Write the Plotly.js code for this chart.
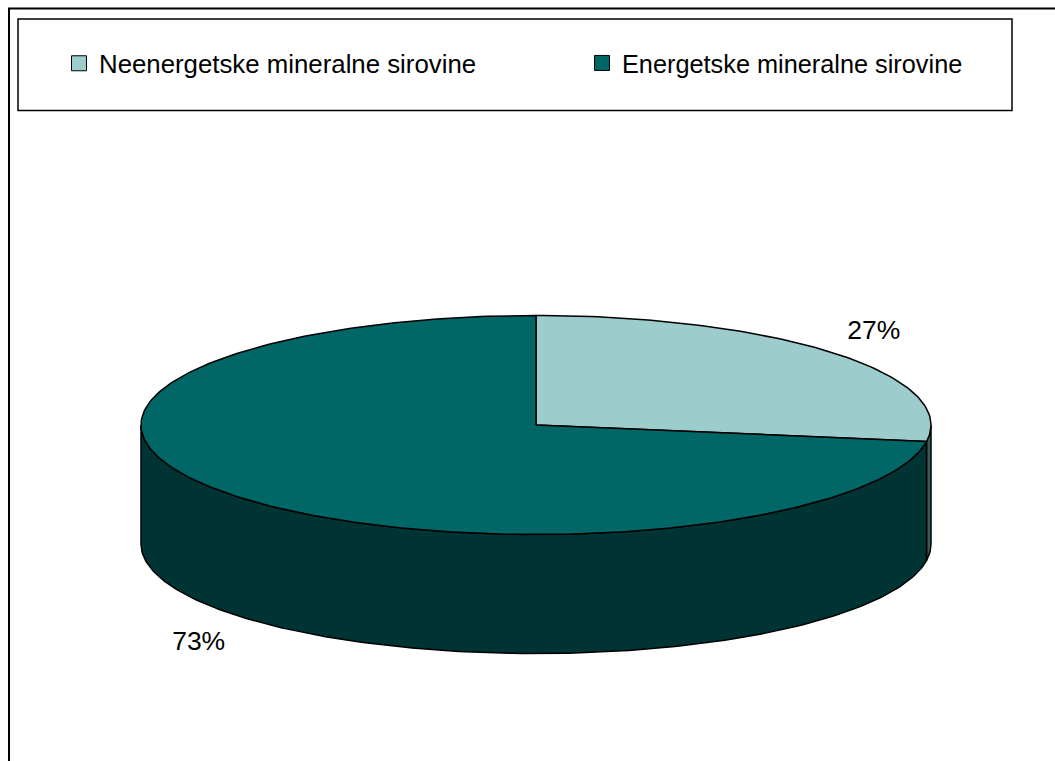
<!DOCTYPE html>
<html><head><meta charset="utf-8">
<script src="https://cdn.plot.ly/plotly-3.0.1.min.js"></script>
<style>html,body{margin:0;padding:0;background:#fff;overflow:hidden}</style>
</head><body><div id="chart" style="width:1055px;height:761px"></div>
<script>
const categories = ["Neenergetske mineralne sirovine", "Energetske mineralne sirovine"];
const values = [27.4, 72.6];
const topColors = ["#9CCCCB", "#006666"];
const wallColors = ["#3E5B5C", "#003333"];
const labelAnchors = [[0.855, 0.85], [-0.854, -1.995]];

const W = 1055, H = 761, CX = 536, CY = 425, RX = 395, RY = 109.5, DEPTH = 119;
const depth = DEPTH / RY;
const total = values.reduce((a, b) => a + b, 0);
const start = [0, values[0] / total * 360];
const end = [values[0] / total * 360, 360];
const rad = d => d * Math.PI / 180;
const pt = (deg, drop) => [Math.sin(rad(deg)), Math.cos(rad(deg)) - (drop || 0)];
function arc(a, b, drop) {
  const out = [], n = Math.max(2, Math.ceil(Math.abs(b - a)));
  for (let i = 0; i <= n; i++) out.push(pt(a + (b - a) * i / n, drop));
  return out;
}
function poly(points, color) {
  return {
    type: "scatter", mode: "lines", x: points.map(p => p[0]), y: points.map(p => p[1]),
    fill: "toself", fillcolor: color, line: { color: "#000", width: 1.5 },
    hoverinfo: "skip", showlegend: false
  };
}
const traces = [];
// side walls: only the front half (90 to 270 degrees) of the disc shows
categories.forEach((c, i) => {
  const a = Math.max(start[i], 90), b = Math.min(end[i], 270);
  if (a < b) {
    const pts = arc(a, b, 0).concat(arc(b, a, depth));
    pts.push(pts[0]);
    traces.push(poly(pts, wallColors[i]));
  }
});
// top faces
categories.forEach((c, i) => {
  const pts = [[0, 0]].concat(arc(start[i], end[i], 0));
  pts.push([0, 0]);
  traces.push(poly(pts, topColors[i]));
});
// labels
traces.push({
  type: "scatter", mode: "text", x: labelAnchors.map(p => p[0]), y: labelAnchors.map(p => p[1]),
  text: values.map(v => Math.round(v) + "%"), textposition: "middle center",
  textfont: { family: "Liberation Sans", size: 26.5, color: "#000" },
  hoverinfo: "skip", showlegend: false
});
// legend keys
categories.forEach((c, i) => traces.push({
  type: "scatter", mode: "markers", x: [null], y: [null], name: c,
  legend: i === 0 ? "legend" : "legend2",
  marker: { symbol: "square", size: 15, color: topColors[i], line: { color: "#000", width: 1 } },
  hoverinfo: "skip", showlegend: true
}));

const px = x => x / W, py = y => 1 - y / H;
const layout = {
  width: W, height: H, margin: { l: 0, r: 0, t: 0, b: 0 },
  paper_bgcolor: "#fff", plot_bgcolor: "rgba(0,0,0,0)",
  xaxis: { visible: false, range: [(0 - CX) / RX, (W - CX) / RX], fixedrange: true },
  yaxis: { visible: false, range: [(CY - H) / RY, CY / RY], fixedrange: true },
  showlegend: true,
  legend: { x: px(59), y: py(40), xanchor: "left", yanchor: "top", bgcolor: "rgba(0,0,0,0)", font: { family: "Liberation Sans", size: 25.8, color: "#000" } },
  legend2: { x: px(582), y: py(40), xanchor: "left", yanchor: "top", bgcolor: "rgba(0,0,0,0)", font: { family: "Liberation Sans", size: 25.3, color: "#000" } },
  shapes: [
    { type: "rect", xref: "paper", yref: "paper", x0: px(18), x1: px(1012), y0: py(19), y1: py(110.5), line: { color: "#000", width: 1.5 }, layer: "below" },
    { type: "path", xref: "paper", yref: "paper", path: `M ${px(9)} ${py(761)} L ${px(9)} ${py(8.5)} L ${px(1055)} ${py(8.5)}`, line: { color: "#000", width: 2 }, layer: "below" }
  ]
};
Plotly.newPlot("chart", traces, layout, { displayModeBar: false, staticPlot: true });
</script></body></html>
